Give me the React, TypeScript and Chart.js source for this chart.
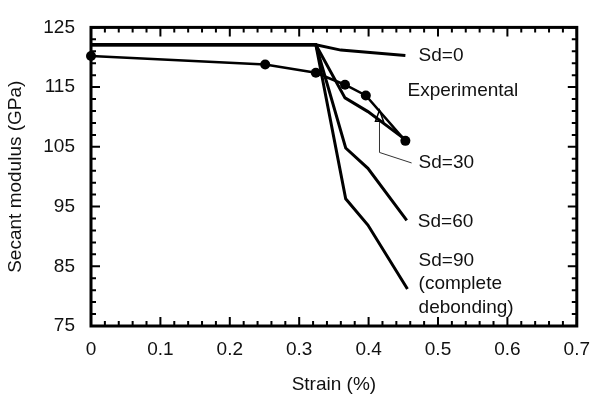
import React, { useEffect, useRef } from "react";
import { Chart, registerables } from "chart.js";

Chart.register(...registerables);

// ---- data (strain %, secant modulus GPa) ----
const sd0X = [0, 0.324, 0.36, 0.453];
const sd0Y = [122.1, 122.1, 121.2, 120.3];

const sd30X = [0, 0.324, 0.366, 0.399, 0.453];
const sd30Y = [122.1, 122.1, 113.2, 110.9, 106.2];

const sd60X = [0, 0.324, 0.367, 0.399, 0.455];
const sd60Y = [122.1, 122.1, 104.8, 101.4, 92.7];

const sd90X = [0, 0.324, 0.367, 0.399, 0.456];
const sd90Y = [122.1, 122.1, 96.3, 91.9, 81.2];

const expX = [0, 0.251, 0.324, 0.366, 0.396, 0.453];
const expY = [120.2, 118.8, 117.4, 115.4, 113.6, 106.0];

const xTicks = [0, 0.1, 0.2, 0.3, 0.4, 0.5, 0.6, 0.7];
const yTicks = [75, 85, 95, 105, 115, 125];

// annotation labels
const labelTexts = ["Sd=0", "Experimental", "Sd=30", "Sd=60", "Sd=90", "(complete", "debonding)"];
const labelX = [0.472, 0.456, 0.472, 0.471, 0.472, 0.472, 0.472];
const labelY = [120.3, 114.45, 102.4, 92.5, 86.0, 82.0, 78.1];

// arrow path from "Sd=30" label to the Sd=30 curve
const arrowX = [0.462, 0.4157, 0.4157];
const arrowY = [102.3, 104.06, 109.3];

const FONT = "'Liberation Sans', Arial, Helvetica, sans-serif";
const FS = 19;

const toPts = (xs: number[], ys: number[]) => xs.map((x, i) => ({ x, y: ys[i] }));

const framePlugin = {
  id: "framePlugin",
  afterDatasetsDraw(chart: any) {
    const { ctx, chartArea, scales } = chart;
    const xs = scales.x;
    const ys = scales.y;
    const { left, right, top, bottom } = chartArea;
    ctx.save();
    ctx.strokeStyle = "#000";
    ctx.lineWidth = 2;
    ctx.beginPath();
    for (let i = 0; i <= 35; i++) {
      const px = xs.getPixelForValue(i * 0.02);
      const len = i % 5 === 0 ? 9 : 5;
      ctx.moveTo(px, bottom);
      ctx.lineTo(px, bottom - len);
      ctx.moveTo(px, top);
      ctx.lineTo(px, top + len);
    }
    for (let i = 0; i <= 25; i++) {
      const py = ys.getPixelForValue(75 + i * 2);
      const len = i % 5 === 0 ? 9 : 5;
      ctx.moveTo(left, py);
      ctx.lineTo(left + len, py);
      ctx.moveTo(right, py);
      ctx.lineTo(right - len, py);
    }
    ctx.stroke();
    ctx.lineWidth = 3;
    ctx.strokeRect(left, top, right - left, bottom - top);

    ctx.fillStyle = "#111";
    ctx.font = `${FS}px ${FONT}`;
    ctx.textAlign = "left";
    ctx.textBaseline = "middle";
    labelTexts.forEach((t, i) => {
      ctx.fillText(t, xs.getPixelForValue(labelX[i]), ys.getPixelForValue(labelY[i]));
    });

    ctx.lineWidth = 1;
    ctx.strokeStyle = "#333";
    ctx.beginPath();
    arrowX.forEach((x, i) => {
      const px = xs.getPixelForValue(x);
      const py = ys.getPixelForValue(arrowY[i]);
      if (i === 0) ctx.moveTo(px, py);
      else ctx.lineTo(px, py);
    });
    ctx.stroke();
    const tipX = xs.getPixelForValue(arrowX[2]);
    const baseY = ys.getPixelForValue(arrowY[2]);
    const tipY = baseY - 11;
    ctx.lineWidth = 1.5;
    ctx.strokeStyle = "#000";
    ctx.beginPath();
    ctx.moveTo(tipX - 4, baseY);
    ctx.lineTo(tipX, tipY);
    ctx.lineTo(tipX + 4, baseY);
    ctx.closePath();
    ctx.stroke();
    ctx.restore();
  },
};

export default function App() {
  const ref = useRef<HTMLCanvasElement>(null);

  useEffect(() => {
    document.body.style.margin = "0";
    const lineDs = (label: string, xs: number[], ys: number[], w: number) => ({
      label,
      data: toPts(xs, ys),
      showLine: true,
      borderColor: "#000",
      backgroundColor: "#000",
      borderWidth: w,
      pointRadius: 0,
      tension: 0,
      clip: false as any,
    });
    const chart = new Chart(ref.current!, {
      type: "scatter",
      data: {
        datasets: [
          lineDs("Sd=0", sd0X, sd0Y, 3),
          lineDs("Sd=30", sd30X, sd30Y, 3),
          lineDs("Sd=60", sd60X, sd60Y, 3),
          lineDs("Sd=90", sd90X, sd90Y, 3),
          { ...lineDs("Experimental", expX, expY, 2.5), pointRadius: 5, pointBorderWidth: 0 },
        ],
      },
      options: {
        animation: false,
        responsive: false,
        maintainAspectRatio: false,
        layout: { padding: { left: 0, right: 19, top: 18, bottom: 0 } },
        plugins: { legend: { display: false }, tooltip: { enabled: false } },
        scales: {
          x: {
            type: "linear",
            min: 0,
            max: 0.7,
            afterFit: (s: any) => {
              s.height = 72;
            },
            afterBuildTicks: (s: any) => {
              s.ticks = xTicks.map((v) => ({ value: v }));
            },
            grid: { display: false, drawTicks: false },
            border: { display: false },
            ticks: {
              padding: 12,
              color: "#111",
              font: { family: FONT, size: FS },
              callback: (v: any) => (Number(v) === 0 ? "0" : Number(v).toFixed(1)),
            },
            title: {
              display: true,
              text: "Strain (%)",
              color: "#111",
              font: { family: FONT, size: FS },
              padding: { top: 0, bottom: 2 },
            },
          },
          y: {
            type: "linear",
            min: 75,
            max: 125,
            afterFit: (s: any) => {
              s.width = 91;
            },
            afterBuildTicks: (s: any) => {
              s.ticks = yTicks.map((v) => ({ value: v }));
            },
            grid: { display: false, drawTicks: false },
            border: { display: false },
            ticks: {
              padding: 16,
              color: "#111",
              font: { family: FONT, size: FS },
            },
            title: {
              display: true,
              text: "Secant modulus (GPa)",
              color: "#111",
              font: { family: FONT, size: FS },
              padding: { top: 4, bottom: 0 },
            },
          },
        },
      },
      plugins: [framePlugin],
    });
    return () => chart.destroy();
  }, []);

  return (
    <div style={{ width: 602, height: 398 }}>
      <canvas ref={ref} width={602} height={398} style={{ width: 602, height: 398, display: "block" }} />
    </div>
  );
}
